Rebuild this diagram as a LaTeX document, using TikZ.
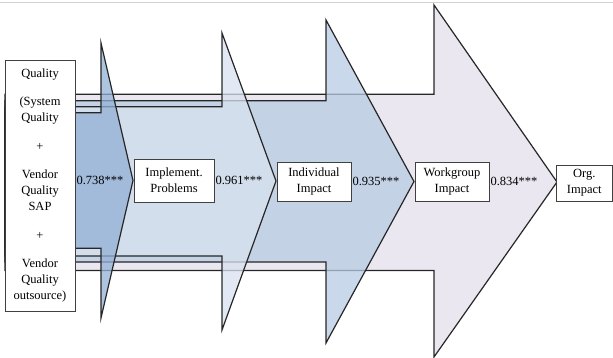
\documentclass[tikz,border=0pt]{standalone}
\usepackage{fontspec}
\setmainfont{Liberation Serif}
\usepackage{tikz}
\usetikzlibrary{positioning}

\definecolor{ArrowOne}{HTML}{93B1D6}
\definecolor{ArrowTwo}{HTML}{D8E2F0}
\definecolor{ArrowThree}{HTML}{B7CBE3}
\definecolor{ArrowFour}{HTML}{E4DFEB}

\begin{document}
\begin{tikzpicture}[x=1pt, y=-1pt,
	every node/.style={font=\fontsize{12.5}{16}\selectfont},
	box/.style={draw=black!75, fill=white, line width=0.7pt, align=center, inner sep=0pt},
	coef/.style={inner sep=1pt},
	outline/.style={black!85, line width=1.2pt, line join=miter}]
	\useasboundingbox (0,0) rectangle (613,358);
	\draw[black!18, line width=0.8pt] (0,2) -- (613,2);

	% back arrow: workgroup -> org
	\fill[ArrowFour, opacity=0.75] (5,94.3) -- (434,94.3) -- (434,5) -- (557,182) -- (434,357) -- (434,270.5) -- (5,270.5) -- cycle;
	\draw[outline] (5,94.3) -- (434,94.3) -- (434,5) -- (557,182) -- (434,357) -- (434,270.5) -- (5,270.5) -- cycle;

	\fill[ArrowThree, opacity=0.75] (5,100.7) -- (326,100.7) -- (326,20) -- (414,181.5) -- (326,343) -- (326,262) -- (5,262) -- cycle;
	\draw[outline] (5,100.7) -- (326,100.7) -- (326,20) -- (414,181.5) -- (326,343) -- (326,262) -- (5,262) -- cycle;

	\fill[ArrowTwo, opacity=0.75] (5,106.7) -- (222,106.7) -- (222,33) -- (276,181) -- (222,330) -- (222,256) -- (5,256) -- cycle;
	\draw[outline] (5,106.7) -- (222,106.7) -- (222,33) -- (276,181) -- (222,330) -- (222,256) -- (5,256) -- cycle;

	% front arrow: quality -> implement.
	\fill[ArrowOne, opacity=0.75] (5,112.7) -- (101,112.7) -- (101,43) -- (133,180.5) -- (101,318) -- (101,248.3) -- (5,248.3) -- cycle;
	\draw[outline] (5,112.7) -- (101,112.7) -- (101,43) -- (133,180.5) -- (101,318) -- (101,248.3) -- (5,248.3) -- cycle;

	\node[box, minimum width=70, minimum height=251] (qual) at (40,185.5)
		{Quality\\[12.5pt](System\\Quality\\[12.5pt]+\\[12.5pt]Vendor\\Quality\\SAP\\[12.5pt]+\\[12.5pt]Vendor\\Quality\\outsource)};
	\node[box, minimum width=80, minimum height=43] (impl) at (174,180.5) {Implement.\\Problems};
	\node[box, minimum width=74, minimum height=39] (indiv) at (314,181.5) {Individual\\Impact};
	\node[box, minimum width=74, minimum height=39] (work) at (452,181.5) {Workgroup\\Impact};
	\node[box, minimum width=56.5, minimum height=36] (org) at (584.25,183) {Org.\\Impact};

	\node[coef, anchor=west] (c1) at (qual.east |- impl.center) {0.738***};
	\node[coef, right=0pt of impl] (c2) {0.961***};
	\node[coef, right=0pt of indiv] (c3) {0.935***};
	\node[coef, right=0pt of work] (c4) {0.834***};
\end{tikzpicture}
\end{document}
